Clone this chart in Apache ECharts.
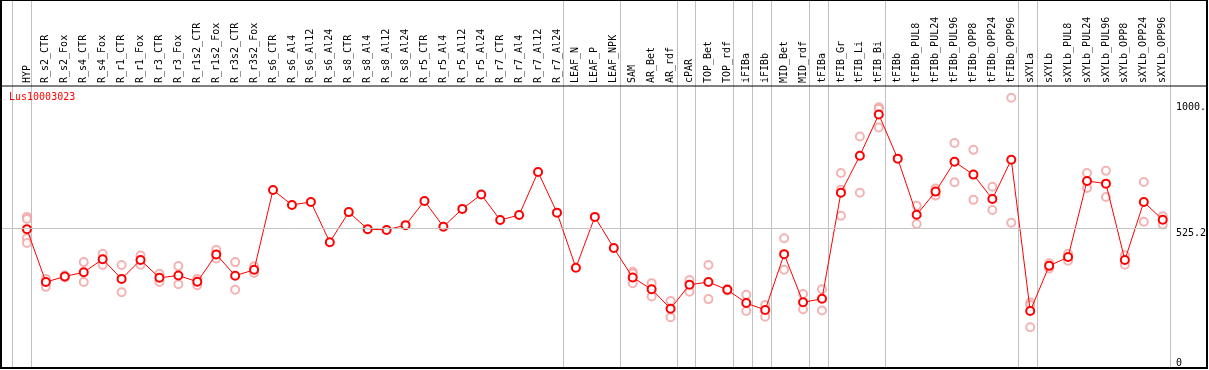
<!DOCTYPE html>
<html>
<head>
<meta charset="utf-8">
<script src="https://cdn.jsdelivr.net/npm/echarts@6/dist/echarts.min.js"></script>
<style>html,body{margin:0;padding:0;background:#fff}#c{width:1209px;height:370px}</style>
</head>
<body>
<div id="c"></div>
<script>
const geneName = 'Lus10003023';
const categories = ['HYP','R_s2_CTR','R_s2_Fox','R_s4_CTR','R_s4_Fox','R_r1_CTR','R_r1_Fox','R_r3_CTR','R_r3_Fox','R_r1s2_CTR','R_r1s2_Fox','R_r3s2_CTR','R_r3s2_Fox','R_s6_CTR','R_s6_Al4','R_s6_Al12','R_s6_Al24','R_s8_CTR','R_s8_Al4','R_s8_Al12','R_s8_Al24','R_r5_CTR','R_r5_Al4','R_r5_Al12','R_r5_Al24','R_r7_CTR','R_r7_Al4','R_r7_Al12','R_r7_Al24','LEAF_N','LEAF_P','LEAF_NPK','SAM','AR_Bet','AR_rdf','cPAR','TOP_Bet','TOP_rdf','iFIBa','iFIBb','MID_Bet','MID_rdf','tFIBa','tFIB_Gr','tFIB_Li','tFIB_Bi','tFIBb','tFIBb_PUL8','tFIBb_PUL24','tFIBb_PUL96','tFIBb_OPP8','tFIBb_OPP24','tFIBb_OPP96','sXYLa','sXYLb','sXYLb_PUL8','sXYLb_PUL24','sXYLb_PUL96','sXYLb_OPP8','sXYLb_OPP24','sXYLb_OPP96'];
const means = [522,323,344,360,409,335,406,339,348,324,427,347,369,669,613,624,473,586,522,519,537,628,531,598,652,556,575,737,584,377,568,451,340,296,223,313,323,294,244,218,428,247,260,659,798,953,787,576,663,775,727,635,783,214,384,417,703,693,406,624,557];
const replicates = [
  [568,560,488,470],[335,305],[348,340],[398,323],[429,387],[387,285],[423,388],[354,323],[383,315],[335,311],[444,412],[398,294],[382,357],
  [],[],[],[],[],[],[],[],[],[],[],[],[],[],[],[],[],[],[],
  [362,355,319],[319,269],[252,191],[331,287],[387,259],[298,291],[275,214],[237,193],[488,369],[278,221],[296,216],
  [733,670,572],[870,659],[980,974,904],[],[610,541],[675,648],[846,698],[820,632],[681,594],[1016,546],
  [246,237,153],[394,374],[429,403],[733,677],[741,643],[424,388],[699,550],[570,539]
];
const groupEnds = [-1,0,28,31,34,35,37,38,39,41,42,45,52,53,60];
const yTickValues = [0, 525.2, 1000];
const yTickLabels = ['0', '525.2', '1000.'];
const refLine = 525.2;

const sepOffset = 0.22;
const xMin = -1.37, xMax = 60 + sepOffset;
const font = 'DejaVu Sans Mono';

const meanData = means.map((v, i) => [i, v]);
const repData = [];
replicates.forEach((arr, i) => arr.forEach(v => repData.push([i, v])));
const sepData = groupEnds.map(g => [g + sepOffset, 0]);
const yLbl = v => { const k = yTickValues.indexOf(v); return k >= 0 ? yTickLabels[k] : ''; };

const chart = echarts.init(document.getElementById('c'), null, { renderer: 'canvas' });
chart.setOption({
  animation: false,
  backgroundColor: '#fff',
  title: { text: geneName, left: 9, top: 92, padding: 0,
    textStyle: { color: '#ff0000', fontSize: 10, fontFamily: font, fontWeight: 'normal' } },
  grid: [
    { left: 1, right: 39, top: 86, bottom: 2 },
    { left: 1, right: 39, top: 0, bottom: 1 }
  ],
  xAxis: [
    { type: 'value', gridIndex: 0, position: 'top', min: xMin, max: xMax,
      axisLine: { show: false }, axisTick: { show: false }, splitLine: { show: false },
      axisLabel: { customValues: categories.map((c, i) => i), formatter: v => categories[v] || '',
        rotate: 90, margin: 3, fontSize: 10, fontFamily: font, color: '#000', showMinLabel: true, showMaxLabel: true } },
    { type: 'value', gridIndex: 1, min: xMin, max: xMax, show: false }
  ],
  yAxis: [
    { type: 'value', gridIndex: 0, position: 'right', min: 0, max: 1060,
      axisLine: { show: false }, axisTick: { show: false }, splitLine: { show: false },
      axisLabel: { customValues: yTickValues.slice(1), formatter: yLbl, verticalAlign: 'top', align: 'left',
        margin: 9, fontSize: 10, fontFamily: font, color: '#000' } },
    { type: 'value', gridIndex: 0, position: 'right', min: 0, max: 1060,
      axisLine: { show: false }, axisTick: { show: false }, splitLine: { show: false },
      axisLabel: { customValues: yTickValues.slice(0, 1), formatter: yLbl, verticalAlign: 'bottom', align: 'left',
        margin: 9, fontSize: 10, fontFamily: font, color: '#000' } },
    { type: 'value', gridIndex: 1, min: 0, max: 1, show: false }
  ],
  series: [
    { type: 'custom', xAxisIndex: 1, yAxisIndex: 2, data: sepData, silent: true, z: 1, clip: false,
      encode: { x: 0, y: 1 },
      renderItem: (params, api) => {
        const p0 = api.coord([api.value(0), 0]);
        const p1 = api.coord([api.value(0), 1]);
        const x = Math.round(p0[0]) + 0.5;
        return { type: 'line', shape: { x1: x, y1: p0[1], x2: x, y2: p1[1] },
          style: { stroke: '#c0c0c0', lineWidth: 1 } };
      } },
    { type: 'scatter', xAxisIndex: 0, yAxisIndex: 0, data: repData, symbol: 'emptyCircle', symbolSize: 8,
      itemStyle: { color: '#f0a0a0', borderWidth: 1.2 }, z: 3 },
    { type: 'line', xAxisIndex: 0, yAxisIndex: 0, data: meanData, symbol: 'emptyCircle', symbolSize: 8,
      lineStyle: { color: '#ff0000', width: 1 }, itemStyle: { color: '#ff0000', borderWidth: 1.3 }, z: 4,
      markLine: { silent: true, symbol: ['none', 'none'], label: { show: false },
        lineStyle: { color: '#c4c4c4', width: 1, type: 'solid' }, data: [{ yAxis: refLine }] } }
  ],
  graphic: [
    { type: 'rect', shape: { x: 1, y: 0, width: 1206, height: 368 }, style: { fill: null, stroke: '#000', lineWidth: 2 }, z: 100, silent: true },
    { type: 'line', shape: { x1: 1, y1: 86, x2: 1207, y2: 86 }, style: { stroke: '#000', lineWidth: 1 }, z: 100, silent: true }
  ]
});
</script>
</body>
</html>
